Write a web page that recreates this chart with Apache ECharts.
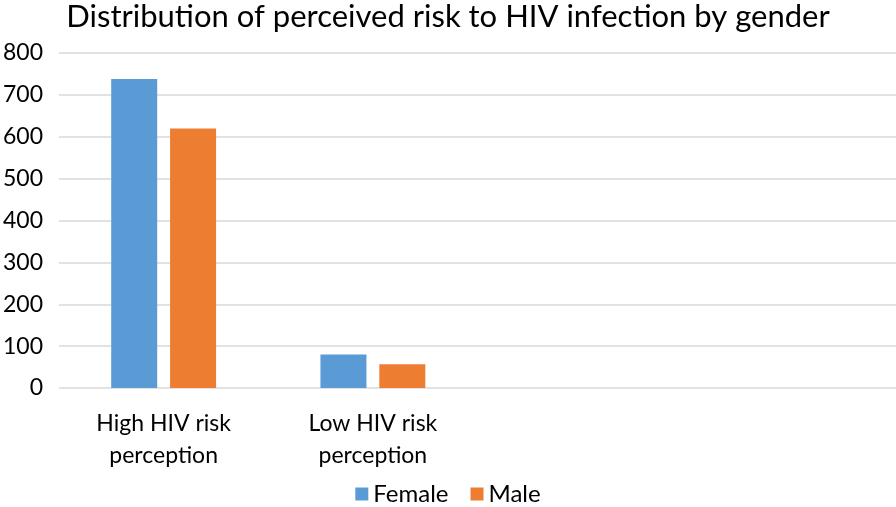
<!DOCTYPE html>
<html><head><meta charset="utf-8">
<script src="https://cdn.jsdelivr.net/npm/echarts@6/dist/echarts.min.js"></script>
<style>html,body{margin:0;padding:0;background:#fff}#c{width:896px;height:507px}</style>
</head><body><div id="c"></div>
<script>
const categories = ['High HIV risk\nperception', 'Low HIV risk\nperception', '', ''];
const female = [738, 80, null, null];
const male = [620, 57, null, null];
const yTicks = [0, 100, 200, 300, 400, 500, 600, 700, 800];

const FONT = 'Lato';
const chart = echarts.init(document.getElementById('c'));
chart.setOption({
  animation: false,
  title: {
    text: 'Distribution of perceived risk to HIV infection by gender',
    left: 'center', top: -4,
    textStyle: { fontFamily: FONT, fontSize: 31, fontWeight: 'normal', color: '#000' }
  },
  legend: {
    bottom: -4, left: 'center', itemWidth: 13, itemHeight: 13, itemGap: 22,
    icon: 'rect',
    textStyle: { fontFamily: FONT, fontSize: 24, color: '#000' },
    data: ['Female', 'Male']
  },
  grid: { left: 57, right: 0, top: 53, bottom: 119 },
  xAxis: {
    type: 'category', data: categories,
    axisLine: { show: false }, axisTick: { show: false },
    axisLabel: { fontFamily: FONT, fontSize: 23, color: '#000', lineHeight: 32, margin: 20, interval: 0 }
  },
  yAxis: {
    type: 'value', min: yTicks[0], max: yTicks[yTicks.length - 1], interval: 100,
    axisLine: { show: false }, axisTick: { show: false },
    axisLabel: { fontFamily: FONT, fontSize: 23, color: '#000', margin: 16 },
    splitLine: { lineStyle: { color: '#D9D9D9', width: 1.5 } }
  },
  series: [
    { name: 'Female', type: 'bar', data: female, barWidth: 46, barGap: '28%', itemStyle: { color: '#5B9BD5' } },
    { name: 'Male', type: 'bar', data: male, barWidth: 46, barGap: '28%', itemStyle: { color: '#ED7D31' } }
  ]
});
</script></body></html>
